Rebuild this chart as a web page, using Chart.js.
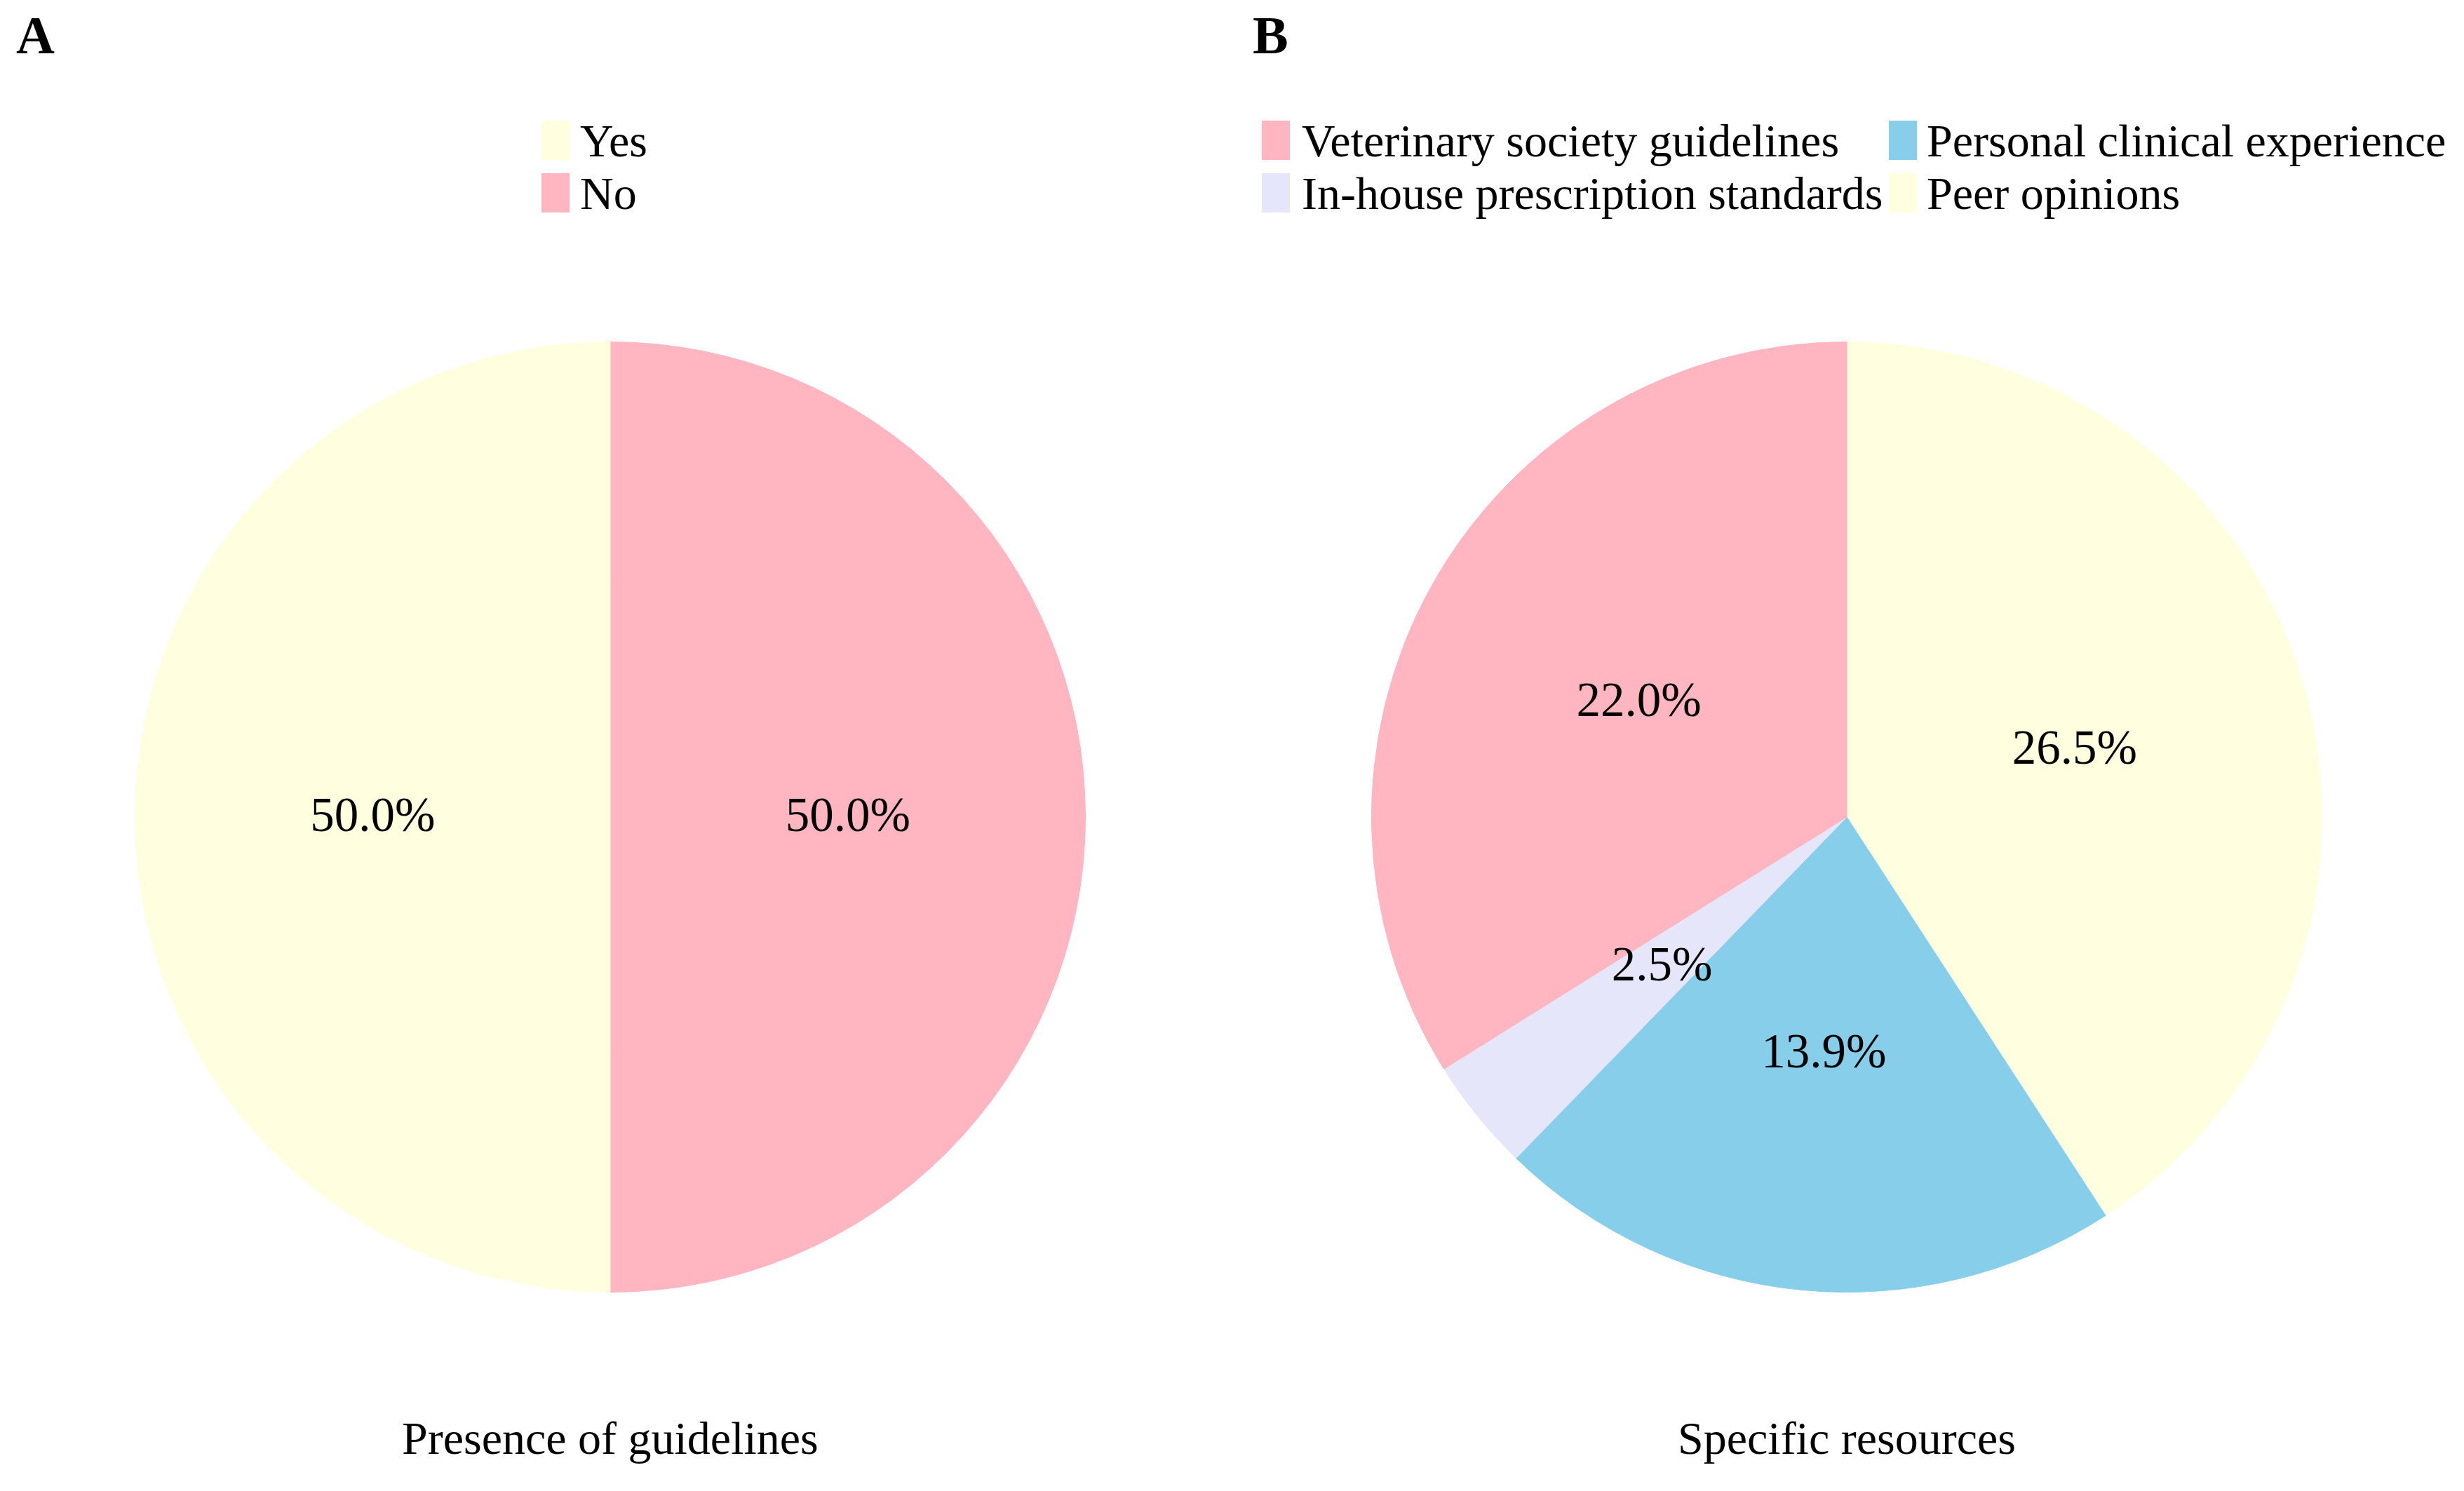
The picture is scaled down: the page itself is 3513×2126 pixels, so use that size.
<!DOCTYPE html>
<html>
<head>
<meta charset="utf-8">
<script src="https://cdn.jsdelivr.net/npm/chart.js@4/dist/chart.umd.min.js"></script>
<style>
  html, body { margin:0; padding:0; background:#ffffff; }
  body { width:3513px; height:2126px; position:relative; overflow:hidden;
         font-family:"Liberation Serif","Times New Roman",serif; color:#000; }
  .abs { position:absolute; white-space:nowrap; }
  .txt { font-size:66px; line-height:66px; }
  .panel { font-size:76px; line-height:76px; font-weight:bold; }
  .sq { position:absolute; width:40px; height:56px; }
  canvas { position:absolute; }
</style>
</head>
<body>
<div class="abs panel" style="left:23px; top:12px;">A</div>
<div class="abs panel" style="left:1786px; top:12px;">B</div>

<canvas id="pieA" width="1356" height="1356" style="left:192px; top:487px; width:1356px; height:1356px;"></canvas>
<canvas id="pieB" width="1356" height="1356" style="left:1955px; top:487px; width:1356px; height:1356px;"></canvas>

<div id="legA"></div>
<div id="legB"></div>

<div id="titleA" class="abs txt" style="top:2018px;"></div>
<div id="titleB" class="abs txt" style="top:2018px;"></div>

<script>
// ---- Data ----
const titleA = "Presence of guidelines";
const labelsA = ["No", "Yes"];            // drawn clockwise from top
const valuesA = [50.0, 50.0];
const colorsA = ["#FFB6C1", "#FFFFE0"];
const legendOrderA = ["Yes", "No"];

const titleB = "Specific resources";
const labelsB = ["Peer opinions", "Personal clinical experience", "In-house prescription standards", "Veterinary society guidelines"];
const valuesB = [26.5, 13.9, 2.5, 22.0];
const colorsB = ["#FFFFE0", "#87CEEB", "#E6E6FA", "#FFB6C1"];
const legendOrderB = ["Veterinary society guidelines", "Personal clinical experience", "In-house prescription standards", "Peer opinions"];

// ---- Label plugin: percentage at half radius ----
const pctLabels = {
  id: 'pctLabels',
  afterDatasetsDraw(chart) {
    const ctx = chart.ctx;
    const meta = chart.getDatasetMeta(0);
    const data = chart.data.datasets[0].data;
    ctx.save();
    ctx.font = '69px "Liberation Serif", "Times New Roman", serif';
    ctx.fillStyle = '#000';
    ctx.textAlign = 'center';
    ctx.textBaseline = 'middle';
    meta.data.forEach((arc, i) => {
      const p = arc.getCenterPoint();
      ctx.fillText(data[i].toFixed(1) + '%', p.x, p.y + 2);
    });
    ctx.restore();
  }
};

function makePie(id, labels, values, colors) {
  return new Chart(document.getElementById(id), {
    type: 'pie',
    data: { labels: labels, datasets: [{ data: values, backgroundColor: colors,
            borderColor: colors, borderWidth: 1 }] },
    options: {
      responsive: false, devicePixelRatio: 1, animation: false,
      layout: { padding: 0 },
      plugins: { legend: { display: false }, tooltip: { enabled: false } }
    },
    plugins: [pctLabels]
  });
}
makePie('pieA', labelsA, valuesA, colorsA);
makePie('pieB', labelsB, valuesB, colorsB);

// ---- Legends (HTML) ----
function buildLegend(containerId, order, labels, colors, cols) {
  const c = document.getElementById(containerId);
  const rowSqTop = [172, 247];
  const rowTxtTop = [168, 243];
  order.forEach((name, k) => {
    const col = k % cols.length;
    const row = Math.floor(k / cols.length);
    const color = colors[labels.indexOf(name)];
    const sq = document.createElement('div');
    sq.className = 'sq';
    sq.style.left = cols[col].sqX + 'px';
    sq.style.top = rowSqTop[row] + 'px';
    sq.style.background = color;
    c.appendChild(sq);
    const t = document.createElement('div');
    t.className = 'abs txt';
    t.style.left = cols[col].txtX + 'px';
    t.style.top = rowTxtTop[row] + 'px';
    t.textContent = name;
    c.appendChild(t);
  });
}
buildLegend('legA', legendOrderA, labelsA, colorsA, [{sqX:772, txtX:827}]);
buildLegend('legB', legendOrderB, labelsB, colorsB, [{sqX:1799, txtX:1856}, {sqX:2693, txtX:2747}]);

// ---- Titles ----
function placeTitle(id, text, cx) {
  const el = document.getElementById(id);
  el.textContent = text;
  el.style.left = (cx - el.offsetWidth / 2) + 'px';
}
placeTitle('titleA', titleA, 870);
placeTitle('titleB', titleB, 2633);
</script>
</body>
</html>
